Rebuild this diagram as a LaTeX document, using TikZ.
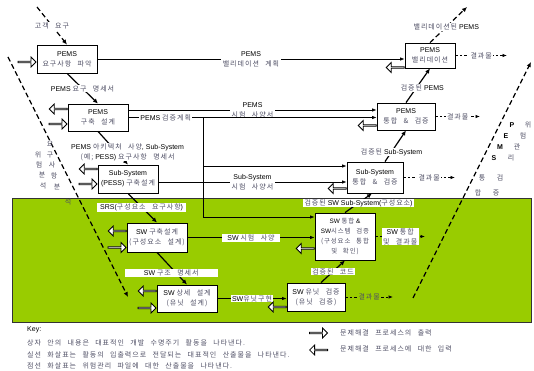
\documentclass[tikz,border=0pt]{standalone}
\usepackage{fontspec}
\setmainfont{Liberation Sans}
\newfontfamily\krfont[Scale=1.0,LetterSpace=14,WordSpace=2.5]{Noto Sans CJK KR}
\usetikzlibrary{arrows.meta,shapes.arrows}
\definecolor{kgray}{RGB}{78,78,100}
\definecolor{vgreen}{RGB}{153,204,0}
\newcommand{\kt}[1]{{\krfont\color{kgray}#1}}
\begin{document}
\begin{tikzpicture}[x=1pt,y=-1pt,
  every node/.style={font=\fontsize{7}{10}\selectfont},
  box/.style={draw,line width=0.8pt,fill=white,align=center,inner sep=0pt},
  lbl/.style={fill=white,inner xsep=1.5pt,inner ysep=0.8pt,align=center},
  conn/.style={line width=0.8pt,-{Latex[length=4.5pt,width=3.5pt]}},
  diag/.style={line width=1.2pt,-{Latex[length=5pt,width=4.5pt]}},
  dsh/.style={line width=1.2pt,dash pattern=on 5pt off 3pt,-{Latex[length=5pt,width=4.5pt]}},
  res/.style={line width=0.7pt,dash pattern=on 2.5pt off 2pt,-{Latex[length=4.5pt,width=3.5pt]}},
  hin/.style={single arrow,draw,line width=0.8pt,fill=white,minimum height=18pt,minimum width=10pt,single arrow head extend=2.2pt,inner sep=0pt,anchor=tip},
  hout/.style={single arrow,draw,line width=0.8pt,fill=white,minimum height=18pt,minimum width=10pt,single arrow head extend=2.2pt,inner sep=0pt,shape border rotate=180,anchor=tail},
  vt/.style={inner sep=0pt,font=\fontsize{7}{8}\krfont\color{kgray}},
  vl/.style={inner sep=0pt,font=\fontsize{7}{8}\selectfont\bfseries},
]
\useasboundingbox (0,0) rectangle (534,371);
% green area
\fill[vgreen,draw=black!80,line width=0.8pt] (12,198) rectangle (531,322);
% big dashed lines
\coordinate (lt) at (8,57); \coordinate (lb) at (128,297);
\draw[dsh] (lt) -- (lb);
\coordinate (rb) at (413,298); \coordinate (rt) at (531,62);
\draw[dsh] (rb) -- (rt);
% boxes
\node[box,minimum width=60pt,minimum height=28pt] (b1) at (67,59) {PEMS\\\kt{요구사항 파악}};
\node[box,minimum width=60pt,minimum height=27pt] (b2) at (98,117.5) {PEMS\\\kt{구축 설계}};
\node[box,minimum width=60pt,minimum height=28pt] (b3) at (128,179) {Sub-System\\(PESS) \kt{구축설계}};
\node[box,minimum width=60pt,minimum height=29pt] (b4) at (157,237.5) {SW \kt{구축설계}\\\kt{(구성요소 설계)}};
\node[box,minimum width=60pt,minimum height=27pt] (b5) at (187,298.5) {SW \kt{상세 설계}\\\kt{(유닛 설계)}};
\node[box,minimum width=58pt,minimum height=28pt] (b6) at (316,297) {SW \kt{유닛 검증}\\\kt{(유닛 검증)}};
\node[box,minimum width=60pt,minimum height=47pt,font=\fontsize{6.4}{10}\selectfont] (b7) at (345,236.5) {SW \kt{통합} \&\\SW\kt{시스템 검증}\\\kt{(구성요소 통합}\\\kt{및 확인)}};
\node[box,minimum width=56pt,minimum height=31pt] (b8) at (375,177.5) {Sub-System\\\kt{통합 \& 검증}};
\node[box,minimum width=58pt,minimum height=27pt] (b9) at (406,116.5) {PEMS\\\kt{통합 \& 검증}};
\node[box,minimum width=50pt,minimum height=25pt] (b10) at (430,55.5) {PEMS\\\kt{밸리데이션}};
% left V connectors
\coordinate (gk) at (37,7);
\draw[dsh] (gk) -- (b1.north) node[midway,lbl]{\kt{고객 요구}};
\draw[diag] (b1.south) -- (b2.north) node[midway,lbl]{PEMS \kt{요구 명세서}};
\draw[diag] (b2.south) -- (b3.north) node[pos=0.62,lbl,xshift=11pt]{PEMS \kt{아키텍처 사양}, Sub-System\\\kt{(예;} PESS) \kt{요구사항 명세서}};
\draw[diag] (b3.south) -- (b4.north) node[pos=0.47,lbl,inner xsep=3pt]{SRS(\kt{구성요소 요구사항})};
\draw[diag] (b4.south) -- (b5.north) node[pos=0.64,lbl,xshift=-5pt,minimum width=93pt]{SW \kt{구조 명세서}};
% right V connectors
\draw[conn] (b5.east) -- (b5.east -| b6.west) node[midway,lbl]{SW\kt{유닛구현}};
\draw[diag] ([xshift=5pt]b6.north) -- (b7.south) node[midway,lbl]{\kt{검증된 코드}};
\draw[diag] (b7.north) -- ([xshift=-3pt]b8.south) node[midway,lbl]{\kt{검증된} SW Sub-System(\kt{구성요소})};
\draw[diag] ([xshift=10pt]b8.north) -- (b9.south) node[pos=0.31,lbl]{\kt{검증된} Sub-System};
\draw[diag] (b9.north) -- (b10.south) node[pos=0.43,lbl,xshift=6pt]{\kt{검증된} PEMS};
\coordinate (vo) at (467,7);
\draw[dsh] (b10.north) -- (vo) node[pos=0.44,lbl]{\kt{밸리데이션된} PEMS};
% horizontal plans
\draw[conn] (b1.east) -- (b1.east -| b10.west) node[midway,lbl]{PEMS\\\kt{밸리데이션 계획}};
\coordinate (p1) at ([yshift=7.5pt]b2.east);
\draw[conn] (p1) -- (p1 -| b9.west) node[midway,lbl]{PEMS\\\kt{시험 사양서}};
\coordinate (j1) at (203,117.5);
\coordinate (j2) at (203,166);
\coordinate (j3) at (203,217);
\draw[line width=0.8pt] (b2.east) -- (j1) node[midway,lbl]{PEMS \kt{검증계획}};
\draw[conn] (j1) -- (j1 -| b9.west);
\draw[line width=0.8pt] (j1) -- (j3);
\draw[conn] (j2) -- (j2 -| b8.west);
\draw[conn] (j3) -- (j3 -| b7.west);
\coordinate (p2) at ([yshift=-3pt]b3.east);
\draw[conn] (p2) -- (p2 -| b8.west) node[midway,lbl]{Sub-System\\\kt{시험 사양서}};
\draw[conn] (b4.east) -- (b4.east -| b7.west) node[midway,lbl,inner xsep=5pt]{SW \kt{시험 사양}};
% results
\coordinate (r10) at (507,0); \coordinate (r9) at (480,0); \coordinate (r8) at (455,0);
\coordinate (r7) at (425,0); \coordinate (r6) at (393,0);
\draw[res] (b10.east) -- (b10.east -| r10) node[midway,lbl]{\kt{결과물}};
\draw[res] (b9.east) -- (b9.east -| r9) node[midway,lbl]{\kt{결과물}};
\draw[res] (b8.east) -- (b8.east -| r8) node[midway,lbl]{\kt{결과물}};
\draw[res] (b7.east) -- (b7.east -| r7) node[midway,lbl]{SW \kt{통합}\\\kt{및 결과물}};
\draw[res] (b6.east) -- (b6.east -| r6) node[midway,fill=vgreen,inner sep=1pt]{\kt{결과물}};
% hollow arrows
\node[hin] (i1) at ([yshift=-3pt]b1.west) {};
\node[hout] (o2) at ([yshift=8.5pt]b2.west) {};
\node[hin] (i2) at ([yshift=-6.5pt]b2.west) {};
\node[hout] (o3) at ([yshift=10pt]b3.west) {};
\node[hin] (i3) at ([yshift=-5pt]b3.west) {};
\node[hout] (o4) at ([yshift=6.5pt]b4.west) {};
\node[hin] (i4) at ([yshift=-10pt]b4.west) {};
\node[hout] (o5) at ([yshift=7.5pt]b5.west) {};
\node[hin] (i5) at ([yshift=-9.5pt]b5.west) {};
\node[hout] (o6) at ([yshift=-10pt]b6.west) {};
\node[hout] (o7) at ([yshift=-12pt]b7.west) {};
\node[hout] (o8) at ([yshift=-11pt]b8.west) {};
\node[hout] (o9) at ([yshift=-9pt]b9.west) {};
\node[hout] (o10) at ([yshift=-12pt]b10.west) {};
% vertical texts
\foreach \c/\x/\y [count=\i] in {요/50/144,구/50/155,사/52/165,항/54/176,분/57/187,석/68/202}
  \node[vt] (va\i) at (\x,\y) {\c};
\foreach \c/\x/\y [count=\i] in {위/38/155,험/39/165,분/42/175,석/43/186}
  \node[vt] (vb\i) at (\x,\y) {\c};
\foreach \c/\x/\y [count=\i] in {P/512/125,E/506/136,M/500/147,S/494/158}
  \node[vl] (vc\i) at (\x,\y) {\c};
\foreach \c/\x/\y [count=\i] in {통/482/178,합/478/193}
  \node[vt] (vd\i) at (\x,\y) {\c};
\foreach \c/\x/\y [count=\i] in {위/528/125,험/523/136,관/517/147,리/511/158,검/500/178,증/496/193}
  \node[vt] (ve\i) at (\x,\y) {\c};
% key
\node[anchor=west,inner sep=0pt] (key) at (27,330) {Key:};
\node[anchor=west,inner sep=0pt] (k1) at (27,343) {\kt{상자 안의 내용은 대표적인 개발 수명주기 활동을 나타낸다.}};
\node[anchor=west,inner sep=0pt] (k2) at (27,355) {\kt{실선 화살표는 활동의 입출력으로 전달되는 대표적인 산출물을 나타낸다.}};
\node[anchor=west,inner sep=0pt] (k3) at (27,366) {\kt{점선 화살표는 위험관리 파일에 대한 산출물을 나타낸다.}};
\node[hin] (ki) at (328,333) {};
\node[anchor=west,inner sep=0pt] (kt1) at (340,333) {\kt{문제해결 프로세스의 출력}};
\node[hout] (ko) at (328,350) {};
\node[anchor=west,inner sep=0pt] (kt2) at (340,349) {\kt{문제해결 프로세스에 대한 입력}};
\end{tikzpicture}
\end{document}
